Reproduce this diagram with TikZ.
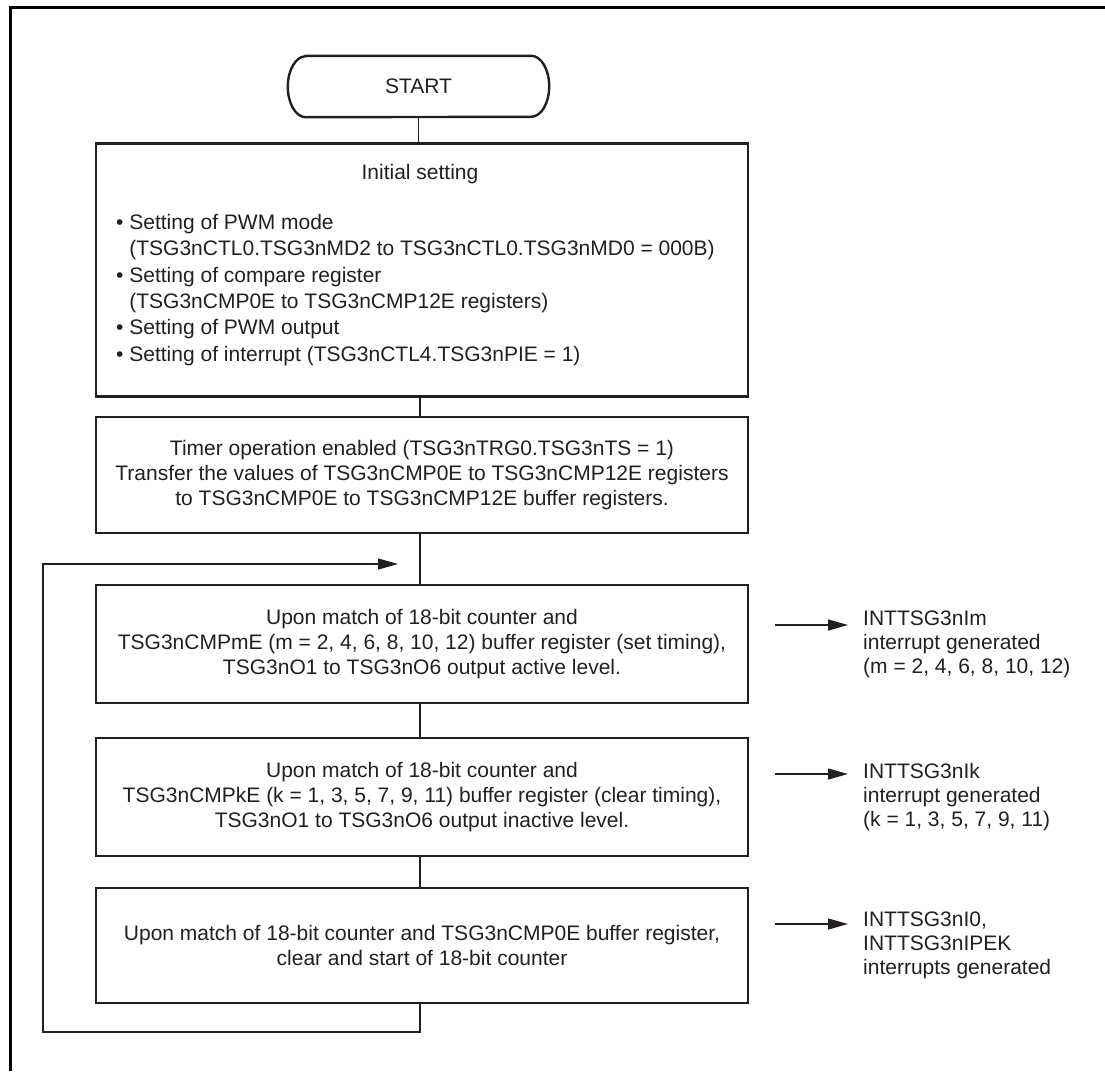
\documentclass[tikz,border=0pt]{standalone}
\usepackage{fontspec}
\setmainfont{Liberation Sans}
\usetikzlibrary{arrows.meta}
\definecolor{ink}{HTML}{231F20}
\begin{document}
\begin{tikzpicture}[x=1pt,y=-1pt,
  every node/.style={font=\fontsize{21}{25}\selectfont, inner sep=0pt, text=ink},
  stepbox/.style={draw=ink, line width=2.4pt, minimum width=652pt, align=center},
  link/.style={draw=ink, line width=1.2pt},
  tip/.style={-{Triangle[length=20pt,width=11pt]}},
  side/.style={anchor=west, align=left, inner xsep=15pt},
]
\useasboundingbox (0,0) rectangle (1105,1071);
% outer frame, open to the right and bottom
\draw[line width=3pt, black] (10,1071) |- (1105,7);

% terminal with shallow rounded ends (arc radii in canvas units)
\node[minimum width=261pt, minimum height=61pt] (start) at (418.5,86.5) {START};
\draw[draw=ink, line width=2.4pt]
  ([xshift=18pt]start.north west) -- ([xshift=-18pt]start.north east)
  arc[start angle=90, end angle=-90, x radius=18pt, y radius=30.5pt]
  -- ([xshift=18pt]start.south west)
  arc[start angle=270, end angle=90, x radius=18pt, y radius=30.5pt] -- cycle;

% flow steps
\node[stepbox, minimum height=253pt] (init) at (422,270) {};
\node (title) at (420,174) {Initial setting};
\node[anchor=west, align=left, font=\fontsize{21}{26.3}\selectfont] (setlist) at (116,290) {%
  • Setting of PWM mode\\
  \phantom{• }(TSG3nCTL0.TSG3nMD2 to TSG3nCTL0.TSG3nMD0 = 000B)\\
  • Setting of compare register\\
  \phantom{• }(TSG3nCMP0E to TSG3nCMP12E registers)\\
  • Setting of PWM output\\
  • Setting of interrupt (TSG3nCTL4.TSG3nPIE = 1)};
\node[stepbox, minimum height=116pt] (timer) at (422,475) {%
  Timer operation enabled (TSG3nTRG0.TSG3nTS = 1)\\
  Transfer the values of TSG3nCMP0E to TSG3nCMP12E registers\\
  to TSG3nCMP0E to TSG3nCMP12E buffer registers.};
\node[stepbox, minimum height=118pt] (mset) at (422,644) {%
  Upon match of 18-bit counter and\\
  TSG3nCMPmE (m = 2, 4, 6, 8, 10, 12) buffer register (set timing),\\
  TSG3nO1 to TSG3nO6 output active level.};
\node[stepbox, minimum height=118pt] (kclr) at (422,797) {%
  Upon match of 18-bit counter and\\
  TSG3nCMPkE (k = 1, 3, 5, 7, 9, 11) buffer register (clear timing),\\
  TSG3nO1 to TSG3nO6 output inactive level.};
\node[stepbox, minimum height=115pt] (zero) at (422,945.5) {%
  Upon match of 18-bit counter and TSG3nCMP0E buffer register,\\
  clear and start of 18-bit counter};

% vertical flow along one spine
\coordinate (spine) at (420,0);
\draw[link] (start.south) -- (start.south |- init.north);
\draw[link] (spine |- init.south) -- (spine |- timer.north);
\draw[link] (spine |- timer.south) -- (spine |- mset.north);
\draw[link] (spine |- mset.south) -- (spine |- kclr.north);
\draw[link] (spine |- kclr.south) -- (spine |- zero.north);

% loop back from the last step
\coordinate (loopbot) at (43,1032);
\coordinate (loopin) at (398,564);
\draw[link, tip] (spine |- zero.south) |- (loopbot) |- (loopin);

% interrupt outputs
\node[side, font=\fontsize{21}{24}\selectfont] (mint) at (848,644) {INTTSG3nIm\\interrupt generated\\(m = 2, 4, 6, 8, 10, 12)};
\node[side, font=\fontsize{21}{24}\selectfont] (kint) at (848,797) {INTTSG3nIk\\interrupt generated\\(k = 1, 3, 5, 7, 9, 11)};
\node[side, font=\fontsize{21}{24}\selectfont] (zint) at (848,945.5) {INTTSG3nI0,\\INTTSG3nIPEK\\interrupts generated};
\coordinate (mout) at (775,625);
\coordinate (kout) at (775,774);
\coordinate (zout) at (775,924);
\draw[link, tip] (mout) -- (mout -| mint.west);
\draw[link, tip] (kout) -- (kout -| kint.west);
\draw[link, tip] (zout) -- (zout -| zint.west);
\end{tikzpicture}
\end{document}
